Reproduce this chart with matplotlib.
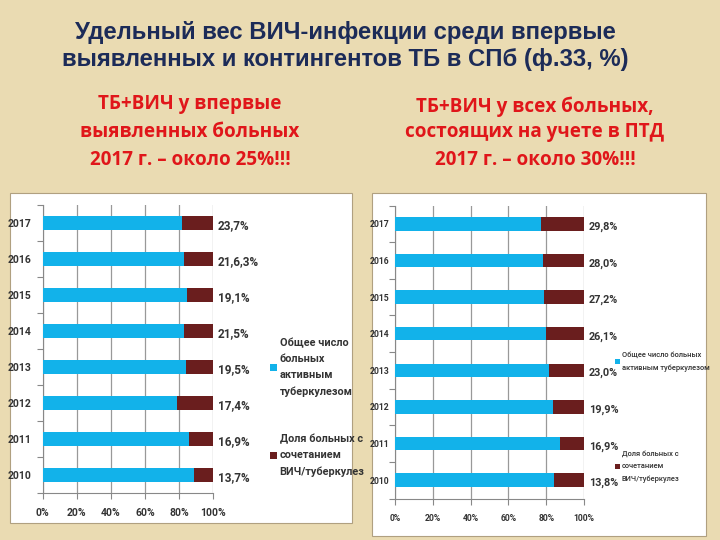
import matplotlib
matplotlib.use("Agg")
import matplotlib.pyplot as plt
from matplotlib.patches import Rectangle

years = ["2010", "2011", "2012", "2013", "2014", "2015", "2016", "2017"]

# left chart: newly detected patients (blue = total, brown = TB+HIV share, as drawn)
left_blue = [88.5, 85.9, 78.7, 84.2, 82.8, 84.4, 82.8, 81.4]
left_labels = ["13,7%", "16,9%", "17,4%", "19,5%", "21,5%", "19,1%", "21,6,3%", "23,7%"]

# right chart: all registered patients
right_blue = [84.1, 87.3, 83.8, 81.5, 79.7, 78.8, 78.3, 77.2]
right_labels = ["13,8%", "16,9%", "19,9%", "23,0%", "26,1%", "27,2%", "28,0%", "29,8%"]

xticks = [0, 0.2, 0.4, 0.6, 0.8, 1.0]
xtick_labels = ["0%", "20%", "40%", "60%", "80%", "100%"]

title = "Удельный вес ВИЧ-инфекции среди впервые\nвыявленных и контингентов ТБ в СПб (ф.33, %)"
sub_left = ["ТБ+ВИЧ у впервые", "выявленных больных", "2017 г. – около 25%!!!"]
sub_right = ["ТБ+ВИЧ у всех больных,", "состоящих на учете в ПТД", "2017 г. – около 30%!!!"]

leg_blue_left = "Общее число\nбольных\nактивным\nтуберкулезом"
leg_brown_left = "Доля больных с\nсочетанием\nВИЧ/туберкулез"
leg_blue_right = "Общее число больных\nактивным туберкулезом"
leg_brown_right = "Доля больных с\nсочетанием\nВИЧ/туберкулез"

BLUE = "#12B2EA"
BROWN = "#6A1E1E"
BG = "#EADBB2"
NAVY = "#1C2B58"
RED = "#E0161A"
TXT = "#333333"

W, H = 720, 540
fig = plt.figure(figsize=(7.2, 5.4), dpi=100)
fig.patch.set_facecolor(BG)

SUBF = ["Open Sans", "DejaVu Sans"]
SMALLF = ["Roboto", "DejaVu Sans"]

def fx(px):
    return px / W

def fy(py):
    return 1 - py / H

# title
fig.text(fx(345), fy(46), title, ha="center", va="center", fontsize=17.2,
         fontweight="bold", color=NAVY, family=["Liberation Sans", "DejaVu Sans"],
         linespacing=1.25)

for i, s in enumerate(sub_left):
    fig.text(fx(190), fy(104 + 28 * i), s, ha="center", va="center", fontsize=13.6,
             fontweight="bold", color=RED, family=SUBF)
for i, s in enumerate(sub_right):
    fig.text(fx(535), fy([107, 132, 160][i]), s, ha="center", va="center", fontsize=13.6,
             fontweight="bold", color=RED, family=SUBF)

# white panels
fig.patches.append(Rectangle((fx(10), fy(523)), fx(342), (523 - 193) / H,
                             transform=fig.transFigure, facecolor="white",
                             edgecolor="#b0a080", lw=0.8, zorder=0))
fig.patches.append(Rectangle((fx(372), fy(536)), fx(334), (536 - 193) / H,
                             transform=fig.transFigure, facecolor="white",
                             edgecolor="#b0a080", lw=0.8, zorder=0))


def make_chart(rect, blue, labels, leg1, leg2, leg1_pos, leg2_pos, weight, legsize,
               ticksize, valsize, ypad):
    x0, y0, x1, y1 = rect
    ax = fig.add_axes([fx(x0), fy(y1), (x1 - x0) / W, (y1 - y0) / H])
    ax.set_zorder(2)
    ax.set_facecolor("none")
    ypos = list(range(len(years)))
    brown = [100 - b for b in blue]
    b1 = ax.barh(ypos, [b / 100 for b in blue], height=0.37, color=BLUE, zorder=3)
    b2 = ax.barh(ypos, [b / 100 for b in brown], left=[b / 100 for b in blue],
                 height=0.37, color=BROWN, zorder=3)
    ax.set_xlim(0, 1)
    ax.set_ylim(-0.5, 7.5)
    ax.set_xticks(xticks)
    ax.set_xticklabels(xtick_labels, fontsize=ticksize, fontweight="bold", color=TXT,
                       family=SMALLF)
    ax.set_yticks([y + 0.5 for y in ypos[:-1]] + [-0.5, 7.5], minor=False)
    ax.set_yticklabels([])
    ax.set_yticks(ypos, minor=True)
    ax.set_yticklabels(years, minor=True, fontsize=ticksize, fontweight="bold", color=TXT,
                       family=SMALLF)
    ax.tick_params(axis="y", which="minor", length=0, pad=ypad)
    ax.tick_params(axis="y", which="major", length=4, color="#888888", direction="out")
    ax.tick_params(axis="x", length=4, color="#888888", pad=7)
    ax.xaxis.grid(True, color="#999999", lw=0.9, zorder=0)
    for s in ["top", "right"]:
        ax.spines[s].set_visible(False)
    for s in ["left", "bottom"]:
        ax.spines[s].set_color("#888888")
    for y, lab in zip(ypos, labels):
        ax.text(1.025, y - 0.08, lab, ha="left", va="center", fontsize=valsize,
                fontweight="bold", color=TXT, family=SMALLF)
    for h, lab, pos in ((b1, leg1, leg1_pos), (b2, leg2, leg2_pos)):
        l = fig.legend([h], [lab], loc="upper left",
                       bbox_to_anchor=(fx(pos[0]), fy(pos[1])),
                       frameon=False, handlelength=0.6, handleheight=0.6, handletextpad=0.3,
                       borderpad=0, borderaxespad=0,
                       prop={"family": SMALLF, "size": legsize, "weight": weight},
                       labelcolor=TXT)
        l.set_zorder(3)
        for t in l.get_texts():
            t.set_linespacing(1.75)
    return ax


make_chart((42.7, 205, 213.3, 493), left_blue, left_labels,
           leg_blue_left, leg_brown_left, (270, 338), (270, 434), "bold", 7.8, 7.5, 8.5, 8)
make_chart((395, 205.5, 584, 498.5), right_blue, right_labels,
           leg_blue_right, leg_brown_right, (615, 351), (615, 450), "medium", 5.4, 6.2, 7.8, 4)

fig.savefig("out.png", dpi=100, facecolor=BG)
